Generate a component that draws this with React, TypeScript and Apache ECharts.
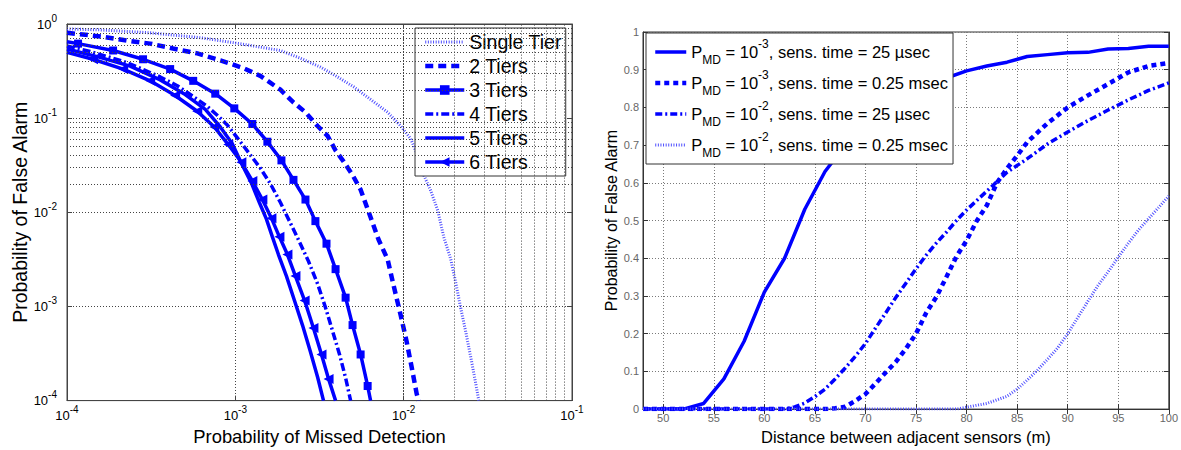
import React, { useEffect, useRef } from "react";
import * as echarts from "echarts";

const FONT = "'Liberation Sans', Arial, Helvetica, sans-serif";

// ---------- Left panel (log-log) ----------
const tierNames = ["Single Tier", "2 Tiers", "3 Tiers", "4 Tiers", "5 Tiers", "6 Tiers"];

const singleTier: number[][] = [
  [1.0e-4, 0.887], [1.571e-4, 0.866], [3.12e-4, 0.806], [6.19e-4, 0.715], [9.73e-4, 0.634],
  [1.352e-3, 0.575], [1.853e-3, 0.523], [2.44e-3, 0.432], [3.21e-3, 0.348], [4.05e-3, 0.274],
  [5.04e-3, 0.2154], [6.36e-3, 0.158], [8.03e-3, 0.1155], [9.6e-3, 0.0825], [0.01101, 0.0604],
  [0.01211, 0.0402], [0.01315, 0.0249], [0.01448, 0.01695], [0.01593, 0.0105], [0.0173, 5.49e-3],
  [0.01905, 3.16e-3], [0.0204, 1.78e-3], [0.02184, 9.53e-4], [0.02339, 5.36e-4], [0.02506, 2.87e-4],
  [0.02684, 1.5e-4], [0.02794, 1.0e-4],
];

const twoTiers: number[][] = [
  [1.0e-4, 0.806], [1.637e-4, 0.732], [2.275e-4, 0.665], [3.12e-4, 0.619], [4.27e-4, 0.549],
  [5.94e-4, 0.487], [8.14e-4, 0.412], [1.116e-3, 0.34], [1.409e-3, 0.281], [1.853e-3, 0.2005],
  [2.215e-3, 0.1468], [2.61e-3, 0.1155], [3.08e-3, 0.0825], [3.53e-3, 0.0649], [3.94e-3, 0.0453],
  [4.39e-3, 0.0348], [4.97e-3, 0.0249], [5.55e-3, 0.01738], [6.36e-3, 8.87e-3], [7.1e-3, 5.11e-3],
  [8.03e-3, 3.16e-3], [8.72e-3, 1.66e-3], [9.6e-3, 8.06e-4], [0.01042, 4.22e-4], [0.01116, 2.26e-4],
  [0.01195, 1.18e-4], [0.01228, 1.0e-4],
];

const threeTiers: number[][] = [
  [1.0e-4, 0.649], [1.163e-4, 0.619], [1.878e-4, 0.523], [2.83e-4, 0.422], [4.1e-4, 0.332],
  [5.62e-4, 0.249], [7.6e-4, 0.182], [9.86e-4, 0.127], [1.262e-3, 0.0866], [1.55e-3, 0.0562],
  [1.879e-3, 0.0356], [2.215e-3, 0.0221], [2.61e-3, 0.01366], [2.99e-3, 8.06e-3], [3.48e-3, 4.64e-3],
  [3.94e-3, 2.49e-3], [4.52e-3, 1.24e-3], [4.97e-3, 6.34e-4], [5.55e-3, 3.09e-4], [6.11e-3, 1.43e-4],
  [6.36e-3, 1.0e-4],
];

const fourTiers: number[][] = [
  [1.0e-4, 0.583], [1.371e-4, 0.511], [2.154e-4, 0.402], [2.72e-4, 0.34], [3.58e-4, 0.274],
  [4.52e-4, 0.221], [5.62e-4, 0.1695], [6.81e-4, 0.1334], [7.81e-4, 0.1075], [8.96e-4, 0.0846],
  [1.071e-3, 0.0562], [1.245e-3, 0.0393], [1.409e-3, 0.0294], [1.616e-3, 0.02005], [1.853e-3, 0.0127],
  [2.096e-3, 8.06e-3], [2.371e-3, 5.11e-3], [2.72e-3, 3.02e-3], [3.08e-3, 1.74e-3], [3.43e-3, 9.77e-4],
  [3.78e-3, 5.49e-4], [4.16e-3, 3.09e-4], [4.52e-3, 1.74e-4], [4.84e-3, 1.0e-4],
];

const fiveTiers: number[][] = [
  [1.0e-4, 0.542], [1.571e-4, 0.442], [2.371e-4, 0.357], [3.58e-4, 0.255], [5.04e-4, 0.178],
  [6.63e-4, 0.124], [8.14e-4, 0.0806], [9.59e-4, 0.0536], [1.101e-3, 0.0316], [1.245e-3, 0.0205],
  [1.389e-3, 0.0127], [1.53e-3, 8.46e-3], [1.66e-3, 5.49e-3], [1.803e-3, 3.56e-3], [2.012e-3, 2.1e-3],
  [2.245e-3, 1.155e-3], [2.505e-3, 6.34e-4], [2.79e-3, 3.32e-4], [3.08e-3, 1.78e-4], [3.34e-3, 1.0e-4],
];

const sixTiers: number[][] = [
  [1.0e-4, 0.499], [1.428e-4, 0.422], [2.154e-4, 0.332], [3.12e-4, 0.249], [4.39e-4, 0.174],
  [5.94e-4, 0.1183], [7.5e-4, 0.0806], [9.08e-4, 0.0524], [1.086e-3, 0.034], [1.262e-3, 0.0215],
  [1.448e-3, 0.01366], [1.638e-3, 8.66e-3], [1.828e-3, 5.49e-3], [2.04e-3, 3.56e-3], [2.275e-3, 2.1e-3],
  [2.58e-3, 1.155e-3], [2.91e-3, 5.9e-4], [3.25e-3, 3.09e-4], [3.58e-3, 1.7e-4], [3.94e-3, 1.0e-4],
];

const logXMin = 1e-4;
const logXMax = 1e-1;
const logYMin = 1e-4;
const logYMax = 1;

// minor log grid values (2..9 × each decade)
const minorMultipliers = [2, 3, 4, 5, 6, 7, 8, 9];
const xDecades = [1e-4, 1e-3, 1e-2];
const yDecades = [1e-4, 1e-3, 1e-2, 1e-1];

// ---------- Right panel (linear) ----------
const rightNames = [
  "P_MD = 10^-3, sens. time = 25 µsec",
  "P_MD = 10^-3, sens. time = 0.25 msec",
  "P_MD = 10^-2, sens. time = 25 µsec",
  "P_MD = 10^-2, sens. time = 0.25 msec",
];
const rightExponents = ["-3", "-3", "-2", "-2"];
const rightTimes = ["25 µsec", "0.25 msec", "25 µsec", "0.25 msec"];

const pmd3Time25us: number[][] = [
  [48, 0], [50, 0], [52, 0], [54, 0.015], [56, 0.08], [58, 0.18], [60, 0.31], [62, 0.4],
  [64, 0.53], [66, 0.63], [68, 0.7], [70, 0.755], [72, 0.8], [74, 0.835], [76, 0.86], [78, 0.878],
  [80, 0.897], [82, 0.91], [84, 0.92], [86, 0.935], [88, 0.94], [90, 0.945], [92, 0.946],
  [94, 0.955], [96, 0.956], [98, 0.962], [100, 0.962],
];
const pmd3Time025ms: number[][] = [
  [48, 0], [66, 0], [67, 0.002], [68, 0.006], [69, 0.022], [70, 0.04], [71, 0.068], [72, 0.097],
  [73, 0.125], [74, 0.16], [75, 0.2], [76, 0.255], [77, 0.297], [78, 0.35], [79, 0.405], [80, 0.447],
  [81, 0.499], [82, 0.54], [83, 0.6], [84, 0.638], [85, 0.672], [86, 0.708], [88, 0.758], [90, 0.8],
  [92, 0.832], [94, 0.862], [96, 0.893], [98, 0.91], [100, 0.918],
];
const pmd2Time25us: number[][] = [
  [48, 0], [62, 0], [63, 0.006], [64, 0.016], [65, 0.033], [66, 0.053], [67, 0.08], [68, 0.109],
  [69, 0.14], [70, 0.174], [71, 0.215], [72, 0.255], [73, 0.296], [74, 0.334], [75, 0.372],
  [76, 0.408], [77, 0.44], [78, 0.469], [79, 0.5], [80, 0.528], [82, 0.578], [84, 0.628],
  [86, 0.664], [88, 0.703], [90, 0.735], [92, 0.765], [94, 0.793], [96, 0.82], [98, 0.845], [100, 0.865],
];
const pmd2Time025ms: number[][] = [
  [48, 0], [79, 0], [80, 0.005], [82, 0.015], [84, 0.034], [85, 0.053], [86, 0.077], [87, 0.103],
  [88, 0.132], [89, 0.162], [90, 0.2], [91, 0.243], [92, 0.286], [93, 0.328], [94, 0.364],
  [95, 0.403], [96, 0.44], [97, 0.475], [98, 0.505], [99, 0.535], [100, 0.565],
];

const rightXMin = 48;
const rightXMax = 100;
const rightXTicks = [50, 55, 60, 65, 70, 75, 80, 85, 90, 95, 100];

function buildOption() {
  const BLUE = "#0000ff";
  const LIGHT = "#4f4fff";
  const gridDot = { type: [1, 2] as number[], color: "#444", width: 1 };
  const rightGridDot = { type: [1, 2] as number[], color: "#7a7a7a", width: 1 };

  const expLabel = (v: number) => `{b|10}{s|${Math.round(Math.log10(v))}}`;
  const expRich = {
    b: { fontSize: 13, lineHeight: 22, fontFamily: FONT, color: "#000" },
    s: { fontSize: 10, lineHeight: 9, verticalAlign: "top", fontFamily: FONT, color: "#000" },
  };

  const minorLines: any[] = [];
  xDecades.forEach((d) => minorMultipliers.forEach((m) => minorLines.push({ xAxis: d * m })));
  yDecades.forEach((d) => minorMultipliers.forEach((m) => minorLines.push({ yAxis: d * m })));

  const markerPoints = (pts: number[][]) =>
    pts.map((p, i) =>
      i === 0 || i === pts.length - 1 ? { value: p, symbol: "none" } : { value: p }
    );

  const leftSeries: any[] = [
    {
      name: "__minorGrid",
      type: "line",
      xAxisIndex: 0,
      yAxisIndex: 0,
      data: [[logXMin, logYMin]],
      symbol: "none",
      lineStyle: { opacity: 0 },
      silent: true,
      z: 1,
      markLine: {
        silent: true,
        symbol: ["none", "none"],
        label: { show: false },
        lineStyle: gridDot,
        emphasis: { disabled: true },
        data: minorLines,
      },
    },
    {
      name: tierNames[0], type: "line", xAxisIndex: 0, yAxisIndex: 0, data: singleTier,
      symbol: "none", lineStyle: { color: LIGHT, width: 3, type: [1, 1.6] }, itemStyle: { color: LIGHT }, z: 3,
    },
    {
      name: tierNames[1], type: "line", xAxisIndex: 0, yAxisIndex: 0, data: twoTiers,
      symbol: "none", lineStyle: { color: BLUE, width: 4.5, type: [8, 5] }, itemStyle: { color: BLUE }, z: 3,
    },
    {
      name: tierNames[2], type: "line", xAxisIndex: 0, yAxisIndex: 0, data: markerPoints(threeTiers),
      symbol: "rect", symbolSize: 8, showSymbol: true,
      lineStyle: { color: BLUE, width: 3.5 }, itemStyle: { color: BLUE }, z: 3,
    },
    {
      name: tierNames[3], type: "line", xAxisIndex: 0, yAxisIndex: 0, data: fourTiers,
      symbol: "none", lineStyle: { color: BLUE, width: 3.5, type: [8, 3, 2, 3] }, itemStyle: { color: BLUE }, z: 3,
    },
    {
      name: tierNames[4], type: "line", xAxisIndex: 0, yAxisIndex: 0, data: fiveTiers,
      symbol: "none", lineStyle: { color: BLUE, width: 3.5 }, itemStyle: { color: BLUE }, z: 3,
    },
    {
      name: tierNames[5], type: "line", xAxisIndex: 0, yAxisIndex: 0, data: markerPoints(sixTiers),
      symbol: "triangle", symbolSize: 10, symbolRotate: 90, showSymbol: true,
      lineStyle: { color: BLUE, width: 3.5 }, itemStyle: { color: BLUE }, z: 3,
    },
  ];

  const rightSeriesData = [pmd3Time25us, pmd3Time025ms, pmd2Time25us, pmd2Time025ms];
  const rightStyles = [
    { color: BLUE, width: 3.5, type: "solid" },
    { color: BLUE, width: 4.5, type: [5, 4] },
    { color: BLUE, width: 3.5, type: [7, 3, 2, 3] },
    { color: LIGHT, width: 3, type: [1, 1.6] },
  ];
  const rightSeries = rightSeriesData.map((d, i) => ({
    name: rightNames[i],
    type: "line",
    xAxisIndex: 2,
    yAxisIndex: 2,
    data: d,
    symbol: "none",
    lineStyle: rightStyles[i],
    itemStyle: { color: rightStyles[i].color },
    z: 3,
  }));

  const rightLegendText = rightNames.map(
    (_, i) => `{m|P}{sub|MD}{m| = 10}{sup|${rightExponents[i]}}{m|, sens. time = ${rightTimes[i]}}`
  );

  const leftLegendWidths = [3, 4.5, 3.5, 3.5, 3.5, 3.5];
  const leftLegendMarker = [false, false, true, false, false, true];
  const rightLegendWidths = [3.5, 4.5, 3.5, 3];

  return {
    animation: false,
    backgroundColor: "#fff",
    textStyle: { fontFamily: FONT },
    legend: [
      {
        data: tierNames.map((n, i) => ({
          name: n,
          lineStyle: { width: leftLegendWidths[i] },
          itemStyle: leftLegendMarker[i] ? {} : { opacity: 0 },
        })),
        orient: "vertical",
        left: 415,
        top: 28,
        padding: [4, 4, 4, 8],
        itemWidth: 39,
        itemHeight: 12,
        itemGap: 4,
        backgroundColor: "#fff",
        borderColor: "#333",
        borderWidth: 1,
        selectedMode: false,
        textStyle: { fontSize: 19.5, lineHeight: 20, color: "#000", fontFamily: FONT },
      },
      {
        data: rightNames.map((n, i) => ({
          name: n,
          lineStyle: { width: rightLegendWidths[i] },
          itemStyle: { opacity: 0 },
        })),
        orient: "vertical",
        left: 646,
        top: 33,
        padding: [5, 5, 5, 7],
        itemWidth: 31,
        itemHeight: 12,
        itemGap: 3,
        backgroundColor: "#fff",
        borderColor: "#333",
        borderWidth: 1,
        selectedMode: false,
        formatter: (name: string) => rightLegendText[rightNames.indexOf(name)],
        textStyle: {
          color: "#000",
          fontFamily: FONT,
          rich: {
            m: { fontSize: 16.5, lineHeight: 28, fontFamily: FONT, color: "#000" },
            sub: { fontSize: 12, lineHeight: 9, verticalAlign: "bottom", fontFamily: FONT, color: "#000" },
            sup: { fontSize: 12, lineHeight: 10, verticalAlign: "top", fontFamily: FONT, color: "#000" },
          },
        },
      },
    ],
    grid: [
      { left: 67, top: 24, width: 505, height: 384, show: true, borderColor: "#444", borderWidth: 1, backgroundColor: "#fff" },
      { left: 643, top: 32, width: 529, height: 385, show: true, borderColor: "#333", borderWidth: 1, backgroundColor: "#fff" },
    ],
    xAxis: [
      {
        type: "log", logBase: 10, gridIndex: 0, position: "bottom", min: logXMin, max: logXMax,
        axisLine: { show: true, lineStyle: { color: "#444" } },
        axisTick: { show: true, inside: true, length: 5, lineStyle: { color: "#444" } },
        axisLabel: { formatter: expLabel, rich: expRich, margin: 4 },
        splitLine: { show: true, lineStyle: gridDot },
        name: "Probability of Missed Detection",
        nameLocation: "middle",
        nameGap: 24,
        nameTextStyle: { fontSize: 18.4, color: "#000", fontFamily: FONT },
      },
      {
        type: "log", logBase: 10, gridIndex: 0, position: "top", min: logXMin, max: logXMax,
        axisLine: { show: true, lineStyle: { color: "#444" } },
        axisTick: { show: true, inside: true, length: 5, lineStyle: { color: "#444" } },
        axisLabel: { show: false },
        splitLine: { show: false },
      },
      {
        type: "value", gridIndex: 1, position: "bottom", min: rightXMin, max: rightXMax,
        axisLine: { show: true, lineStyle: { color: "#333" } },
        axisTick: { show: true, inside: true, length: 5, customValues: rightXTicks, lineStyle: { color: "#333" } },
        axisLabel: { customValues: rightXTicks, margin: 3, fontSize: 11, color: "#666", fontFamily: FONT },
        splitLine: { show: true, lineStyle: rightGridDot },
        name: "Distance between adjacent sensors (m)",
        nameLocation: "middle",
        nameGap: 16,
        nameTextStyle: { fontSize: 16.5, color: "#000", fontFamily: FONT },
      },
      {
        type: "value", gridIndex: 1, position: "top", min: rightXMin, max: rightXMax,
        axisLine: { show: true, lineStyle: { color: "#333" } },
        axisTick: { show: true, inside: true, length: 5, customValues: rightXTicks, lineStyle: { color: "#333" } },
        axisLabel: { show: false, customValues: rightXTicks },
        splitLine: { show: false },
      },
    ],
    yAxis: [
      {
        type: "log", logBase: 10, gridIndex: 0, position: "left", min: logYMin, max: logYMax,
        axisLine: { show: true, lineStyle: { color: "#444" } },
        axisTick: { show: true, inside: true, length: 5, lineStyle: { color: "#444" } },
        axisLabel: { formatter: expLabel, rich: expRich, margin: 10 },
        splitLine: { show: true, lineStyle: gridDot },
        name: "Probability of False Alarm",
        nameLocation: "middle",
        nameGap: 36,
        nameTextStyle: { fontSize: 19.5, color: "#000", fontFamily: FONT },
      },
      {
        type: "log", logBase: 10, gridIndex: 0, position: "right", min: logYMin, max: logYMax,
        axisLine: { show: true, lineStyle: { color: "#444" } },
        axisTick: { show: true, inside: true, length: 5, lineStyle: { color: "#444" } },
        axisLabel: { show: false },
        splitLine: { show: false },
      },
      {
        type: "value", gridIndex: 1, position: "left", min: 0, max: 1, interval: 0.1,
        axisLine: { show: true, lineStyle: { color: "#333" } },
        axisTick: { show: true, inside: true, length: 5, lineStyle: { color: "#333" } },
        axisLabel: { margin: 4, fontSize: 11, color: "#666", fontFamily: FONT },
        splitLine: { show: true, lineStyle: rightGridDot },
        name: "Probability of False Alarm",
        nameLocation: "middle",
        nameGap: 24,
        nameTextStyle: { fontSize: 16, color: "#000", fontFamily: FONT },
      },
      {
        type: "value", gridIndex: 1, position: "right", min: 0, max: 1, interval: 0.1,
        axisLine: { show: true, lineStyle: { color: "#333" } },
        axisTick: { show: true, inside: true, length: 5, lineStyle: { color: "#333" } },
        axisLabel: { show: false },
        splitLine: { show: false },
      },
    ],
    series: [...leftSeries, ...rightSeries],
  };
}

export default function App() {
  const ref = useRef<HTMLDivElement>(null);
  useEffect(() => {
    if (!ref.current) return;
    const chart = echarts.init(ref.current, null, { renderer: "svg" });
    chart.setOption(buildOption() as any);
    return () => chart.dispose();
  }, []);
  return (
    <div
      ref={ref}
      style={{ position: "fixed", left: 0, top: 0, width: 1181, height: 450, background: "#fff" }}
    />
  );
}
